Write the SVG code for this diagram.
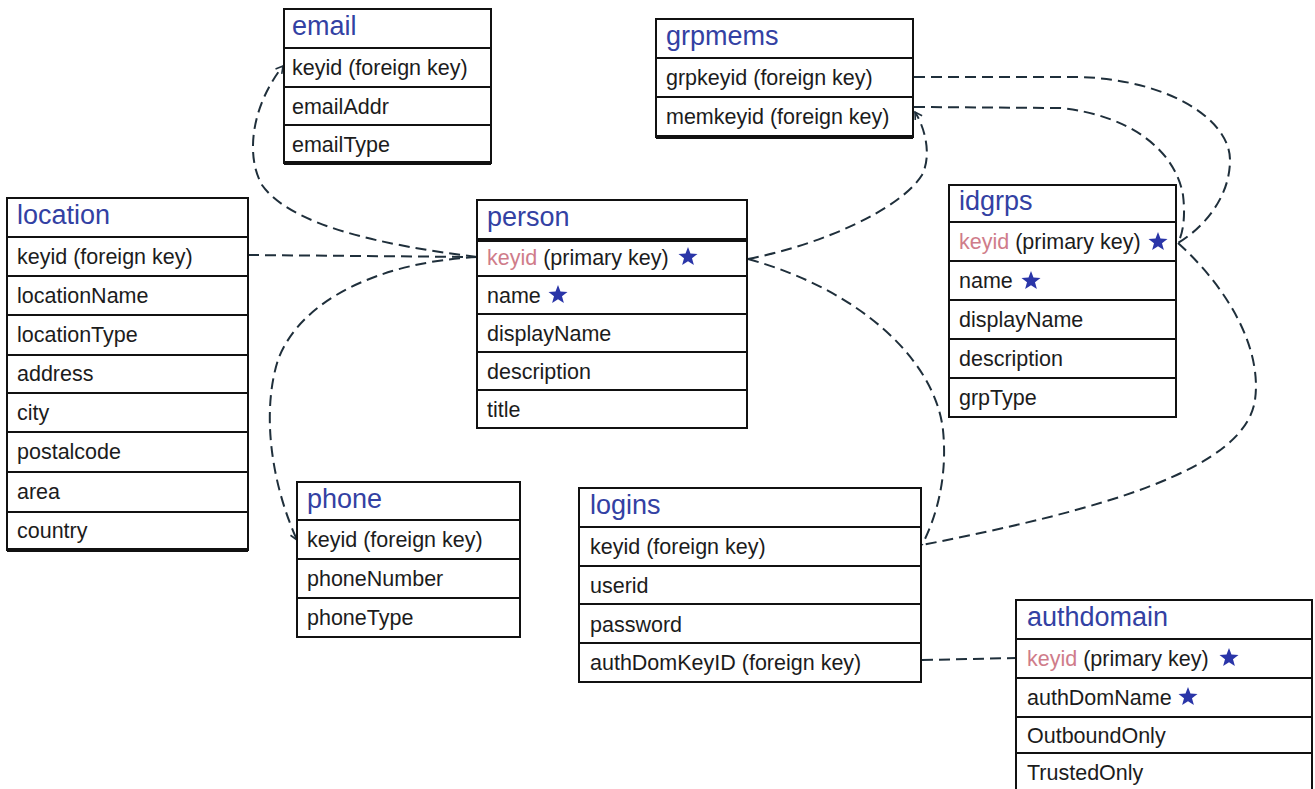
<svg xmlns="http://www.w3.org/2000/svg" width="1315" height="789" viewBox="0 0 1315 789">
<style>
.box{fill:#ffffff;stroke:#111;stroke-width:2}
.sep{stroke:#111;stroke-width:2}
.thick{stroke:#111;stroke-width:4}
.hdr{font-family:"Liberation Sans",Arial,sans-serif;font-size:27px;fill:#3341a3}
.txt{font-family:"Liberation Sans",Arial,sans-serif;font-size:21.5px;fill:#1c1c1c}
.pk{fill:#cf7c8a}
.conn{fill:none;stroke:#1f2f3b;stroke-width:2;stroke-dasharray:11 6}
.star{fill:#2a35a8}
</style>
<defs>
<polygon id="star" points="0,-10 2.47,-3.4 9.51,-3.09 3.99,1.3 5.88,8.09 0,4.2 -5.88,8.09 -3.99,1.3 -9.51,-3.09 -2.47,-3.4"/>
<marker id="arr" markerWidth="12" markerHeight="12" refX="9" refY="5" orient="auto" markerUnits="userSpaceOnUse">
<path d="M2,1 L9,5 L2,9" fill="none" stroke="#1f2f3b" stroke-width="1.6"/>
</marker>
</defs>

<g id="connectors">
<path class="conn" d="M477,257 C380,245 290,225 262,185 C245,155 252,105 283,66" marker-end="url(#arr)"/>
<path class="conn" d="M248,255 L477,257"/>
<path class="conn" d="M477,257 C380,262 300,300 278,360 C262,410 270,480 297,540" marker-end="url(#arr)"/>
<path class="conn" d="M748,259 C820,245 900,210 922,175 C932,155 925,128 915,112" marker-end="url(#arr)"/>
<path class="conn" d="M748,259 C860,290 935,360 943,430 C948,480 935,520 922,545"/>
<path class="conn" d="M914,77 L1080,77 C1170,80 1230,120 1230,160 C1230,200 1200,230 1178,243"/>
<path class="conn" d="M914,107 L1060,108 C1130,115 1175,150 1183,195 C1186,220 1182,235 1178,243"/>
<path class="conn" d="M1178,243 C1230,290 1262,350 1255,400 C1245,470 1100,510 922,545"/>
<path class="conn" d="M922,660 L1016,658"/>
</g>

<g id="email">
<rect class="box" x="284" y="9" width="207" height="154"/>
<line class="sep" x1="284" y1="48" x2="491" y2="48"/>
<line class="sep" x1="284" y1="87" x2="491" y2="87"/>
<line class="sep" x1="284" y1="125" x2="491" y2="125"/>
<line class="thick" x1="284" y1="163" x2="491" y2="163"/>
<text class="hdr" x="292" y="35">email</text>
<text class="txt" x="292" y="75">keyid (foreign key)</text>
<text class="txt" x="292" y="114">emailAddr</text>
<text class="txt" x="292" y="152">emailType</text>
</g>

<g id="location">
<rect class="box" x="7" y="198" width="241" height="352"/>
<line class="sep" x1="7" y1="237" x2="248" y2="237"/>
<line class="sep" x1="7" y1="276" x2="248" y2="276"/>
<line class="sep" x1="7" y1="315" x2="248" y2="315"/>
<line class="sep" x1="7" y1="355" x2="248" y2="355"/>
<line class="sep" x1="7" y1="393" x2="248" y2="393"/>
<line class="sep" x1="7" y1="432" x2="248" y2="432"/>
<line class="sep" x1="7" y1="472" x2="248" y2="472"/>
<line class="sep" x1="7" y1="512" x2="248" y2="512"/>
<line class="thick" x1="7" y1="550" x2="248" y2="550"/>
<text class="hdr" x="17" y="224">location</text>
<text class="txt" x="17" y="264">keyid (foreign key)</text>
<text class="txt" x="17" y="303">locationName</text>
<text class="txt" x="17" y="342">locationType</text>
<text class="txt" x="17" y="381">address</text>
<text class="txt" x="17" y="420">city</text>
<text class="txt" x="17" y="459">postalcode</text>
<text class="txt" x="17" y="499">area</text>
<text class="txt" x="17" y="538">country</text>
</g>

<g id="person">
<rect class="box" x="477" y="200" width="270" height="228"/>
<line class="thick" x1="477" y1="240" x2="747" y2="240"/>
<line class="sep" x1="477" y1="276" x2="747" y2="276"/>
<line class="sep" x1="477" y1="314" x2="747" y2="314"/>
<line class="sep" x1="477" y1="352" x2="747" y2="352"/>
<line class="sep" x1="477" y1="390" x2="747" y2="390"/>
<text class="hdr" x="487" y="226">person</text>
<text class="txt" x="487" y="265"><tspan class="pk">keyid</tspan> (primary key)</text>
<use href="#star" class="star" x="688" y="257"/>
<text class="txt" x="487" y="303">name</text>
<use href="#star" class="star" x="558" y="295"/>
<text class="txt" x="487" y="341">displayName</text>
<text class="txt" x="487" y="379">description</text>
<text class="txt" x="487" y="417">title</text>
</g>

<g id="grpmems">
<rect class="box" x="656" y="19" width="257" height="118"/>
<line class="sep" x1="656" y1="58" x2="913" y2="58"/>
<line class="sep" x1="656" y1="97" x2="913" y2="97"/>
<line class="thick" x1="656" y1="137" x2="913" y2="137"/>
<text class="hdr" x="666" y="45">grpmems</text>
<text class="txt" x="666" y="85">grpkeyid (foreign key)</text>
<text class="txt" x="666" y="124">memkeyid (foreign key)</text>
</g>

<g id="idgrps">
<rect class="box" x="949" y="185" width="227" height="232"/>
<line class="sep" x1="949" y1="222" x2="1176" y2="222"/>
<line class="sep" x1="949" y1="261" x2="1176" y2="261"/>
<line class="sep" x1="949" y1="300" x2="1176" y2="300"/>
<line class="sep" x1="949" y1="339" x2="1176" y2="339"/>
<line class="sep" x1="949" y1="378" x2="1176" y2="378"/>
<text class="hdr" x="959" y="210">idgrps</text>
<text class="txt" x="959" y="249"><tspan class="pk">keyid</tspan> (primary key)</text>
<use href="#star" class="star" x="1158" y="242"/>
<text class="txt" x="959" y="288">name</text>
<use href="#star" class="star" x="1031" y="281"/>
<text class="txt" x="959" y="327">displayName</text>
<text class="txt" x="959" y="366">description</text>
<text class="txt" x="959" y="405">grpType</text>
</g>

<g id="phone">
<rect class="box" x="297" y="482" width="223" height="155"/>
<line class="sep" x1="297" y1="520" x2="520" y2="520"/>
<line class="sep" x1="297" y1="559" x2="520" y2="559"/>
<line class="sep" x1="297" y1="598" x2="520" y2="598"/>
<text class="hdr" x="307" y="508">phone</text>
<text class="txt" x="307" y="547">keyid (foreign key)</text>
<text class="txt" x="307" y="586">phoneNumber</text>
<text class="txt" x="307" y="625">phoneType</text>
</g>

<g id="logins">
<rect class="box" x="579" y="488" width="342" height="194"/>
<line class="sep" x1="579" y1="527" x2="921" y2="527"/>
<line class="sep" x1="579" y1="566" x2="921" y2="566"/>
<line class="sep" x1="579" y1="604" x2="921" y2="604"/>
<line class="sep" x1="579" y1="643" x2="921" y2="643"/>
<text class="hdr" x="590" y="514">logins</text>
<text class="txt" x="590" y="554">keyid (foreign key)</text>
<text class="txt" x="590" y="593">userid</text>
<text class="txt" x="590" y="632">password</text>
<text class="txt" x="590" y="670">authDomKeyID (foreign key)</text>
</g>

<g id="authdomain">
<rect class="box" x="1016" y="600" width="296" height="200"/>
<line class="sep" x1="1016" y1="639" x2="1312" y2="639"/>
<line class="sep" x1="1016" y1="678" x2="1312" y2="678"/>
<line class="sep" x1="1016" y1="717" x2="1312" y2="717"/>
<line class="sep" x1="1016" y1="753" x2="1312" y2="753"/>
<text class="hdr" x="1027" y="626">authdomain</text>
<text class="txt" x="1027" y="666"><tspan class="pk">keyid</tspan> (primary key)</text>
<use href="#star" class="star" x="1229" y="658"/>
<text class="txt" x="1027" y="705">authDomName</text>
<use href="#star" class="star" x="1188" y="697"/>
<text class="txt" x="1027" y="743">OutboundOnly</text>
<text class="txt" x="1027" y="780">TrustedOnly</text>
</g>
</svg>
